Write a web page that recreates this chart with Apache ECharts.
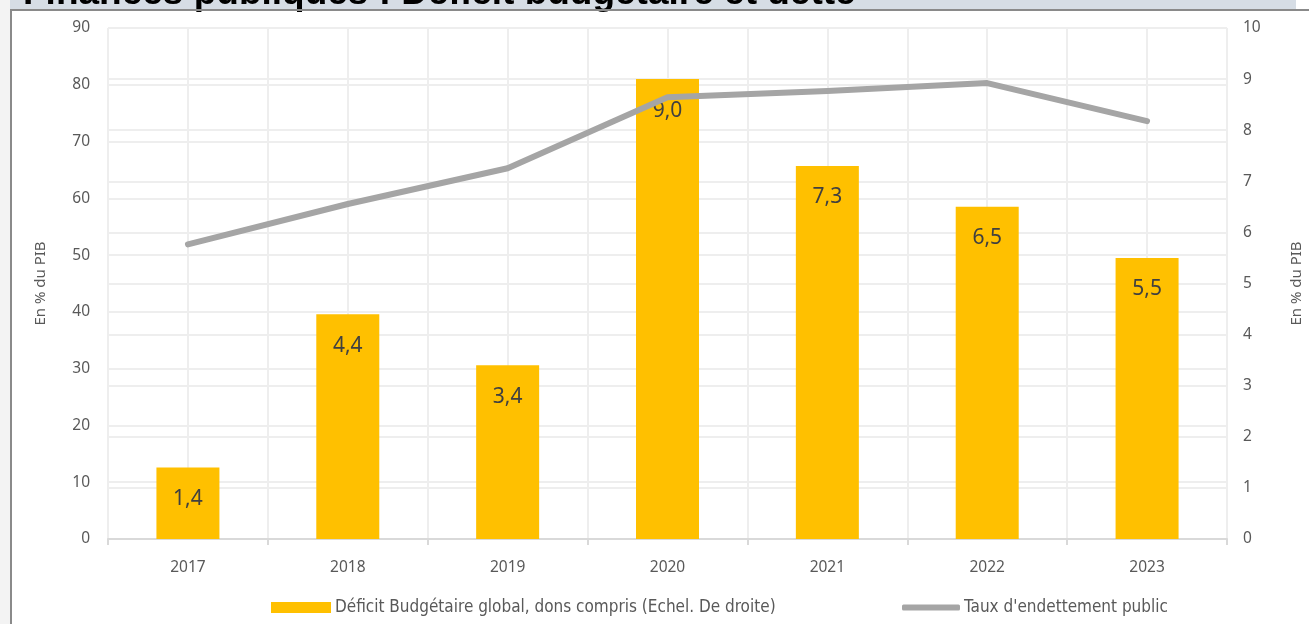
<!DOCTYPE html>
<html>
<head>
<meta charset="utf-8">
<script src="https://cdn.jsdelivr.net/npm/echarts@6/dist/echarts.min.js"></script>
<style>
html,body{margin:0;padding:0;background:#fff;}
#chart{width:1309px;height:624px;}
</style>
</head>
<body>
<div id="chart"></div>
<script>
const titleText = "Finances publiques : Déficit budgétaire et dette";
const years = ["2017", "2018", "2019", "2020", "2021", "2022", "2023"];
const deficit = [1.4, 4.4, 3.4, 9.0, 7.3, 6.5, 5.5];
const dette = [51.9, 59.0, 65.3, 77.8, 78.9, 80.3, 73.6];
const deficitName = "Déficit Budgétaire global, dons compris (Echel. De droite)";
const detteName = "Taux d'endettement public";
const axisName = "En % du PIB";

const chart = echarts.init(document.getElementById('chart'), null, {renderer: 'canvas'});
const axisFont = {color: '#595959', fontSize: 15.5, fontFamily: 'Noto Sans, sans-serif'};
const gridColor = '#eeeeee';
const legendFont = {color: '#595959', fontSize: 17, fontFamily: 'Liberation Sans Narrow, DejaVu Sans Condensed, sans-serif', padding: [0,0,0,-1]};

chart.setOption({
  backgroundColor: '#ffffff',
  animation: false,
  title: {
    text: titleText,
    left: 18,
    top: -30,
    textStyle: {fontFamily: 'Liberation Sans, Arial, sans-serif', fontWeight: 'bold', fontSize: 37, color: '#000'},
    z: 10
  },
  graphic: [
    {type: 'rect', shape: {x: 0, y: 0, width: 1296, height: 10}, style: {fill: '#d6dde5'}, z: -10},
    {type: 'rect', shape: {x: 0, y: 0, width: 10, height: 624}, style: {fill: '#f3f3f3'}, z: -9},
    {type: 'rect', shape: {x: 10, y: 9, width: 1299, height: 2}, style: {fill: '#8a8a8a'}, z: 20},
    {type: 'rect', shape: {x: 10, y: 9, width: 2, height: 615}, style: {fill: '#8a8a8a'}, z: 20}
  ],
  legend: [
    {
      data: [{name: deficitName, icon: 'rect'}],
      left: 266, top: 594,
      itemWidth: 60, itemHeight: 11, itemGap: 4,
      textStyle: legendFont,
      selectedMode: false
    },
    {
      data: [{name: detteName, icon: 'roundRect', itemStyle: {color: '#a5a5a5'}}],
      left: 897, top: 594,
      itemWidth: 58, itemHeight: 6, itemGap: 4,
      textStyle: legendFont,
      selectedMode: false
    }
  ],
  grid: {left: 108, right: 82, top: 28, bottom: 85, containLabel: false, outerBoundsMode: 'none'},
  xAxis: [
    {
      type: 'category',
      data: years,
      boundaryGap: true,
      axisLine: {lineStyle: {color: '#d9d9d9', width: 2}},
      axisTick: {show: true, length: 6, lineStyle: {color: '#d9d9d9', width: 2}},
      axisLabel: Object.assign({margin: 21}, axisFont),
      splitLine: {show: true, lineStyle: {color: gridColor, width: 2}}
    },
    {
      type: 'value',
      min: 0, max: 14, interval: 1,
      position: 'top',
      axisLine: {show: false}, axisTick: {show: false}, axisLabel: {show: false},
      splitLine: {show: true, lineStyle: {color: gridColor, width: 2}}
    }
  ],
  yAxis: [
    {
      type: 'value',
      min: 0, max: 90, interval: 10,
      name: axisName, nameLocation: 'middle', nameGap: 60, nameRotate: 90,
      nameTextStyle: {color: '#595959', fontSize: 15, fontFamily: 'Noto Sans, sans-serif'},
      axisLine: {show: false}, axisTick: {show: false},
      axisLabel: Object.assign({margin: 18}, axisFont),
      splitLine: {show: true, lineStyle: {color: gridColor, width: 2}}
    },
    {
      type: 'value',
      min: 0, max: 10, interval: 1,
      position: 'right',
      name: axisName, nameLocation: 'middle', nameGap: 62, nameRotate: 90,
      nameTextStyle: {color: '#595959', fontSize: 15, fontFamily: 'Noto Sans, sans-serif'},
      axisLine: {show: false}, axisTick: {show: false},
      axisLabel: Object.assign({margin: 16}, axisFont),
      splitLine: {show: true, lineStyle: {color: gridColor, width: 2}}
    }
  ],
  series: [
    {
      name: deficitName,
      type: 'bar',
      xAxisIndex: 0,
      yAxisIndex: 1,
      data: deficit,
      barWidth: 63,
      itemStyle: {color: '#ffc000'},
      label: {
        show: true,
        position: 'insideTop',
        distance: 21,
        color: '#404040',
        fontSize: 21,
        fontFamily: 'Noto Sans, sans-serif',
        formatter: p => p.value.toFixed(1).replace('.', ',')
      },
      z: 2
    },
    {
      name: detteName,
      type: 'line',
      xAxisIndex: 0,
      yAxisIndex: 0,
      data: dette,
      symbol: 'none',
      showSymbol: false,
      lineStyle: {color: '#a5a5a5', width: 6, cap: 'round', join: 'round'},
      itemStyle: {color: '#a5a5a5'},
      z: 3
    }
  ]
});
</script>
</body>
</html>
